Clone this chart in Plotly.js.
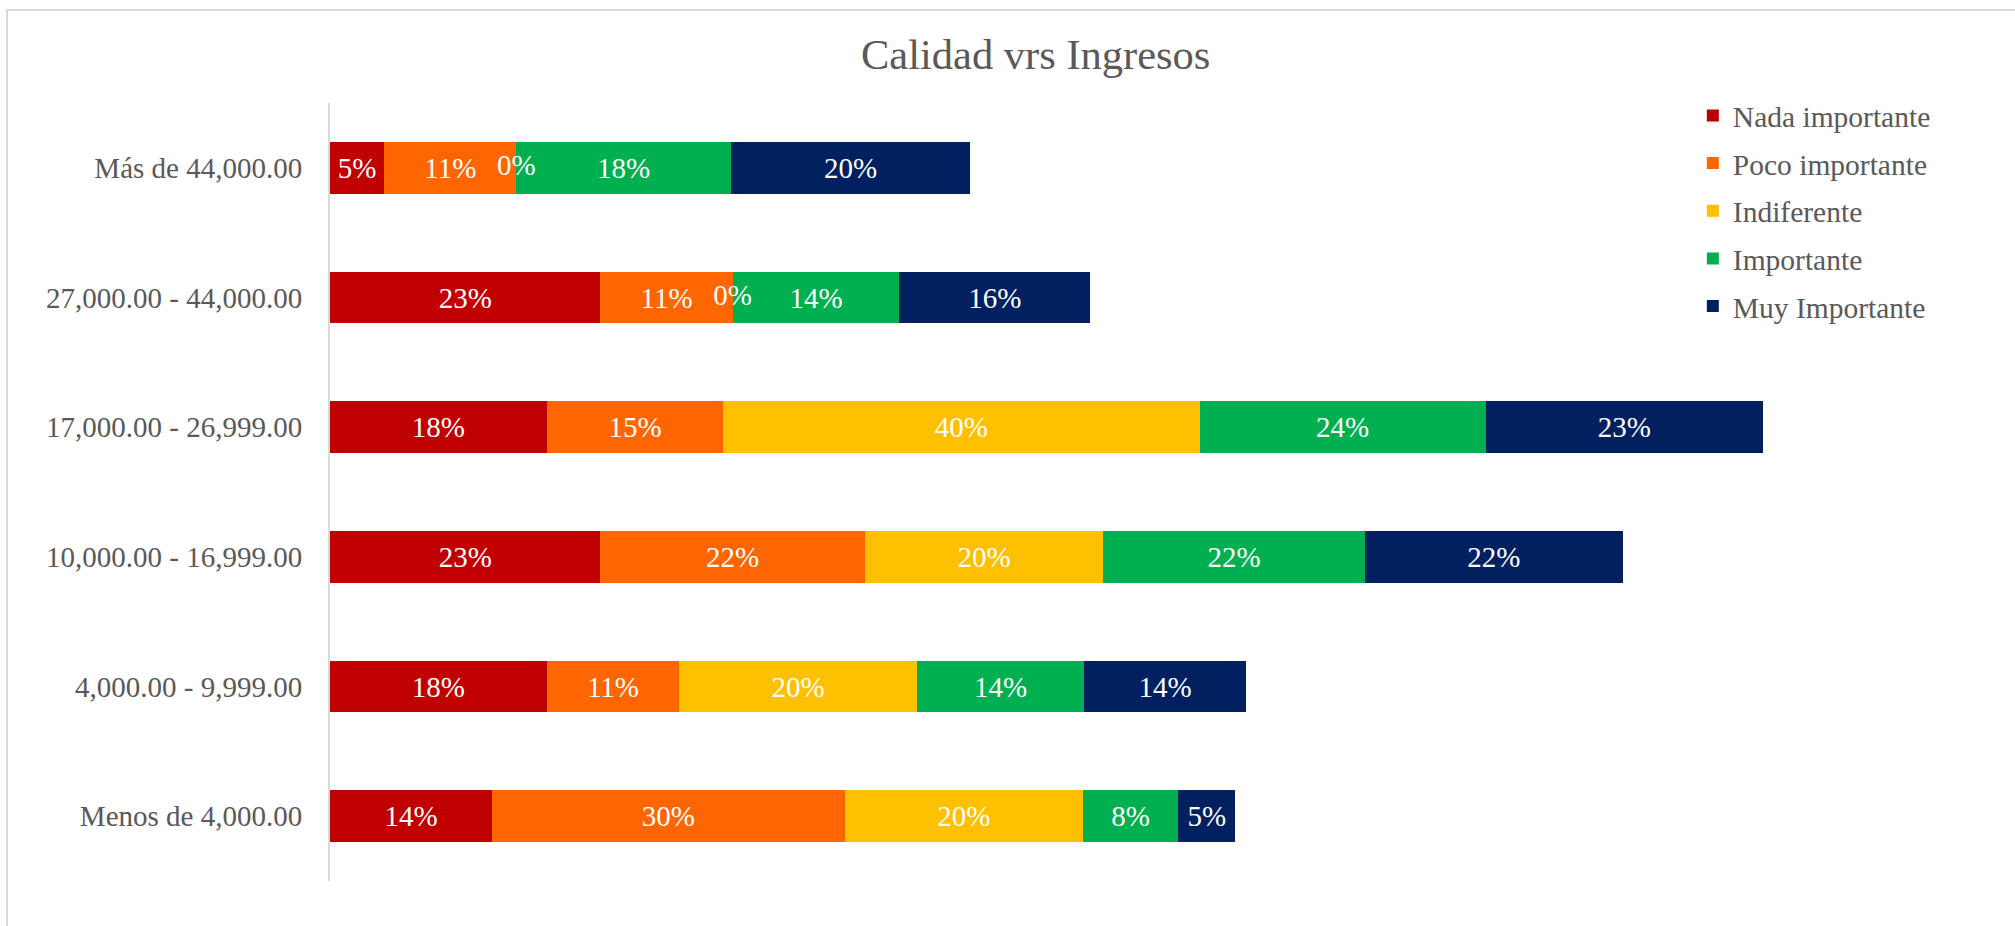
<!DOCTYPE html>
<html>
<head>
<meta charset="utf-8">
<script src="https://cdn.plot.ly/plotly-3.0.1.min.js"></script>
<style>
html,body{margin:0;padding:0;background:#fff;overflow:hidden;}
#chart{width:2015px;height:926px;}
#frame{position:absolute;left:6px;top:9px;width:2020px;height:930px;border:2px solid #d9d9d9;pointer-events:none;}
</style>
</head>
<body>
<div id="chart"></div>
<div id="frame"></div>
<script>
const categories = ["Menos de 4,000.00", "4,000.00 - 9,999.00", "10,000.00 - 16,999.00", "17,000.00 - 26,999.00", "27,000.00 - 44,000.00", "Más de 44,000.00"];
const nadaImportante = [13.6, 18.2, 22.7, 18.2, 22.7, 4.55];
const pocoImportante = [29.6, 11.1, 22.2, 14.8, 11.1, 11.1];
const indiferente = [20, 20, 20, 40, 0, 0];
const importante = [8, 14, 22, 24, 14, 18];
const muyImportante = [4.8, 13.6, 21.6, 23.3, 16.0, 20.1];

const seriesNames = ["Nada importante", "Poco importante", "Indiferente", "Importante", "Muy Importante"];
const seriesValues = [nadaImportante, pocoImportante, indiferente, importante, muyImportante];
const colors = ["#C00000", "#FF6600", "#FFC000", "#00B050", "#002060"];

const FONT = "'Liberation Serif', 'Times New Roman', serif";
const traces = seriesValues.map((vals, i) => ({
  type: "bar",
  orientation: "h",
  name: seriesNames[i],
  legendgroup: "g" + i,
  y: categories,
  x: vals,
  marker: {color: colors[i], line: {width: 0}},
  texttemplate: vals.map(v => v > 0 ? "%{x:.0f}%" : ""),
  textposition: "inside",
  insidetextanchor: "middle",
  constraintext: "none",
  textangle: 0,
  insidetextfont: {family: FONT, size: 29, color: "#ffffff"},
  hoverinfo: "skip"
}));

// zero-value labels for the empty "Indiferente" segments
const zeroX = [], zeroY = [];
indiferente.forEach((v, j) => {
  if (v === 0) { zeroX.push(nadaImportante[j] + pocoImportante[j]); zeroY.push(categories[j]); }
});
traces.push({
  type: "scatter", mode: "text", x: zeroX, y: zeroY, text: zeroX.map(() => "0%"),
  textposition: "middle center", textfont: {family: FONT, size: 29, color: "#ffffff"},
  showlegend: false, hoverinfo: "skip", cliponaxis: false
});

const layout = {
  width: 2015, height: 926,
  margin: {l: 330, r: 22, t: 103, b: 45},
  paper_bgcolor: "#ffffff", plot_bgcolor: "#ffffff",
  barmode: "stack", bargap: 0.6,
  showlegend: true,
  title: {text: "Calidad vrs Ingresos", font: {family: FONT, size: 42.5, color: "#595959"},
          xref: "container", x: 0.514, xanchor: "center", yref: "container", y: 0.942, yanchor: "middle"},
  xaxis: {range: [0, 139.6], showgrid: false, zeroline: false, showticklabels: false, showline: false, ticks: "", fixedrange: true},
  yaxis: {type: "category", categoryorder: "array", categoryarray: categories, range: [-0.5, 5.5],
          showgrid: false, zeroline: false, showline: true, linecolor: "#d9d9d9", linewidth: 2,
          ticks: "outside", ticklen: 20, tickcolor: "rgba(0,0,0,0)",
          tickfont: {family: FONT, size: 29, color: "#595959"}, fixedrange: true},
  legend: {x: 0.8195, xanchor: "left", y: 1.017, yanchor: "top", traceorder: "grouped", tracegroupgap: 6.3,
           font: {family: FONT, size: 29.5, color: "#595959"}, bgcolor: "rgba(0,0,0,0)"},
  hovermode: false
};

Plotly.newPlot("chart", traces, layout, {displayModeBar: false, staticPlot: true});
</script>
</body>
</html>
